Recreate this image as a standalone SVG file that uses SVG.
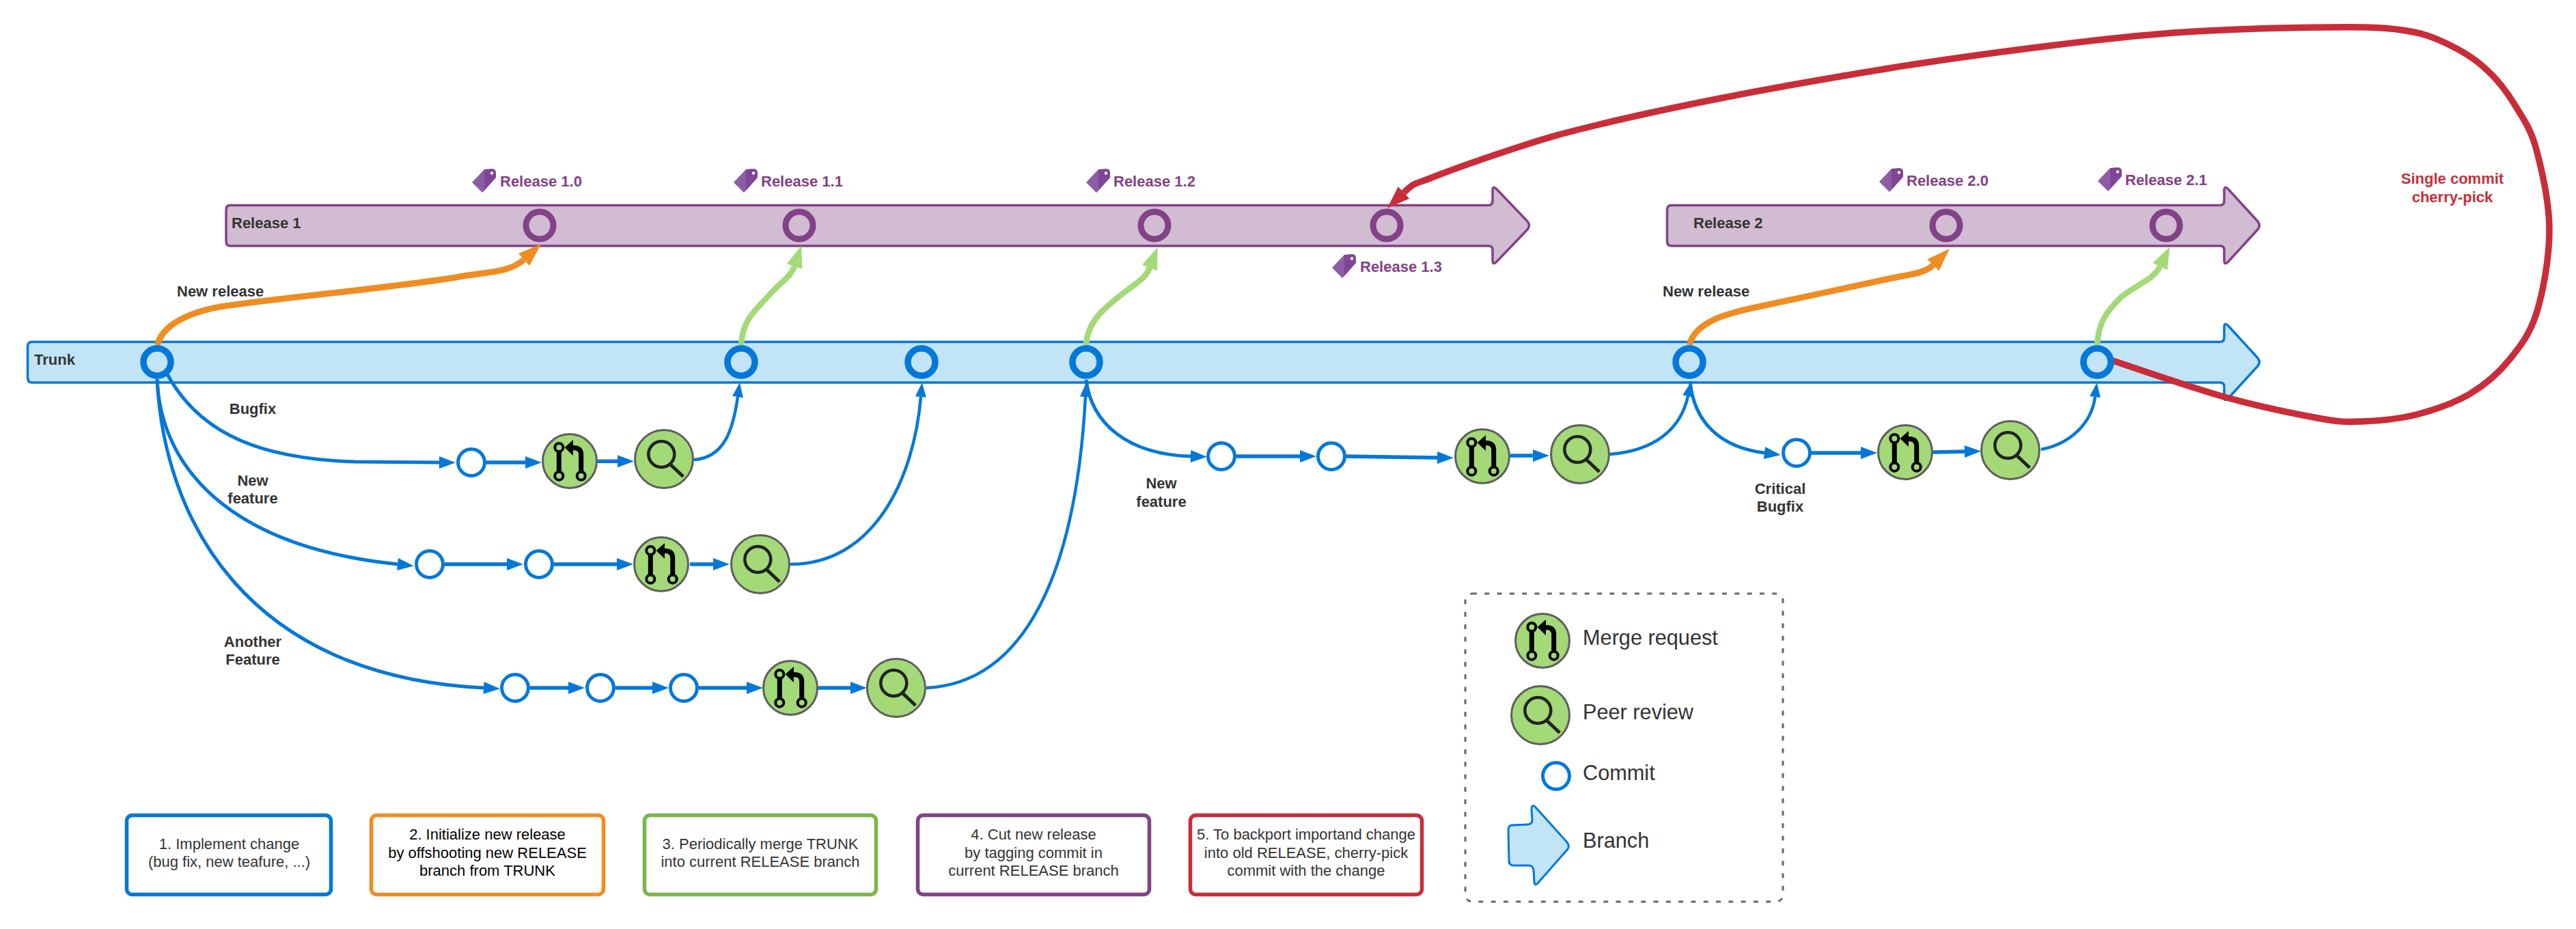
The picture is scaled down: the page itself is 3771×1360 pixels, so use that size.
<svg xmlns="http://www.w3.org/2000/svg" xmlns:xlink="http://www.w3.org/1999/xlink" width="3771" height="1360" viewBox="0 0 3771 1360">
<style>
text{font-family:"Liberation Sans",Arial,sans-serif;font-size:22px;fill:#333}
.b{font-weight:bold}
.tagt{font-weight:bold;fill:#834187}
.red{font-weight:bold;fill:#c92d39}
.m{text-anchor:middle}
.leg{font-size:30.7px}
.blue{fill:#c1e4f7;stroke:#0478d9;stroke-width:3.5}
.purple{fill:#d1bcd2;stroke:#834187;stroke-width:3.5}
.tc{fill:#c1e4f7;stroke:#0478d9;stroke-width:9.5}
.rc{fill:none;stroke:#834187;stroke-width:9}
.c{fill:#fff;stroke:#0478d9;stroke-width:5}
.g{fill:#a3d977;stroke:#5e5e5e;stroke-width:3}
.ln{fill:none;stroke:#0478d9;stroke-width:5;marker-end:url(#aB)}
.st{fill:none;stroke:#0478d9;stroke-width:5.5;marker-end:url(#aB)}
.rt{fill:none;stroke:#0478d9;stroke-width:4.5;marker-end:url(#aB2)}
.or{fill:none;stroke:#ef8d22;stroke-width:9;marker-end:url(#aO)}
.gr{fill:none;stroke:#a3d977;stroke-width:8.500;marker-end:url(#aG)}
.rd{fill:none;stroke:#c92d39;stroke-width:9.500;marker-end:url(#aR)}
.box{fill:#fff;stroke-width:5.5}
</style>
<defs>
<marker id="aB" markerUnits="userSpaceOnUse" markerWidth="24" markerHeight="18" refX="0" refY="9" orient="auto" overflow="visible"><path d="M0,0L24,9L0,18Z" fill="#0478d9"/></marker>
<marker id="aB2" markerUnits="userSpaceOnUse" markerWidth="21" markerHeight="16" refX="0" refY="8" orient="auto" overflow="visible"><path d="M0,0L21,8L0,16Z" fill="#0478d9"/></marker>
<marker id="aO" markerUnits="userSpaceOnUse" markerWidth="34" markerHeight="24" refX="0" refY="12" orient="auto" overflow="visible"><path d="M0,0L34,12L0,24Z" fill="#ef8d22"/></marker>
<marker id="aG" markerUnits="userSpaceOnUse" markerWidth="32" markerHeight="24" refX="0" refY="12" orient="auto" overflow="visible"><path d="M0,0L32,12L0,24Z" fill="#a3d977"/></marker>
<marker id="aR" markerUnits="userSpaceOnUse" markerWidth="33" markerHeight="24" refX="0" refY="12" orient="auto" overflow="visible"><path d="M0,0L33,12L0,24Z" fill="#c92d39"/></marker>
<g id="mrI">
<path d="M-15.7,-18V20M16.7,15V-9Q16.7,-19.5 6,-19.5H2" fill="none" stroke="#000" stroke-width="7"/>
<path d="M-7.5,-20L5,-31V-8Z" fill="#000"/>
<circle cx="-15.7" cy="-20" r="6" fill="#a3d977" stroke="#000" stroke-width="4"/>
<circle cx="-15.7" cy="21.7" r="6" fill="#a3d977" stroke="#000" stroke-width="4"/>
<circle cx="16.7" cy="21.7" r="6" fill="#a3d977" stroke="#000" stroke-width="4"/>
</g>
<g id="mr"><circle r="39.5" class="g"/><use href="#mrI"/></g>
<g id="pr"><circle r="42.5" class="g"/><circle cx="-3.7" cy="-7" r="19" fill="none" stroke="#222" stroke-width="4.5"/><path d="M10,8.5L28.3,25.7" fill="none" stroke="#222" stroke-width="5"/></g>
<g id="tag">
<path d="M18,1L0,20L15,35L18,32Z" fill="#8e5ba6"/>
<path d="M18,1L29,0Q35,0 35,6V13L18,32Z" fill="#7f4596"/>
<circle cx="29" cy="6.500" r="2.200" fill="#fff"/>
</g>
</defs>

<g id="release1-branch"><path class="purple" d="M337,300.5H2179Q2185,300.5 2185,294V279Q2185,271 2191,277L2236,324Q2241,330 2236,336L2191,383Q2185,389 2185,381V366Q2185,360 2179,360H337Q331,360 331,353V307Q331,300.5 337,300.5Z"/><text class="b" x="339" y="334">Release 1</text></g>
<g id="release2-branch"><path class="purple" d="M2447,300.5H3250Q3256,300.5 3256,294V279Q3256,271 3262,277L3305,324Q3310,330 3305,336L3262,383Q3256,389 3256,381V366Q3256,360 3250,360H2447Q2440.5,360 2440.5,353V307Q2440.5,300.5 2447,300.5Z"/><text class="b" x="2479" y="334">Release 2</text></g>
<g id="trunk-branch"><path class="blue" d="M47,500.5H3250Q3256,500.5 3256,494V479Q3256,471 3262,477L3305,524Q3310,530 3305,536L3262,583Q3256,589 3256,581V566Q3256,560 3250,560H47Q40.5,560 40.5,553V507Q40.5,500.5 47,500.5Z"/><text class="b" x="50" y="534">Trunk</text></g>

<g id="connectors">
<path class="ln" d="M245,548C295,640 390,672 520,676L643,677"/>
<path class="ln" d="M230,555C235,680 330,800 582,826"/>
<path class="ln" d="M230,555C240,760 360,990 708,1007"/>
<path class="ln" d="M1590,556C1598,620 1650,665 1743,668"/>
<path class="ln" d="M2474,558C2480,620 2520,655 2583,663"/>
<path class="rt" d="M1016,673C1060,670 1073,630 1080,581"/>
<path class="rt" d="M1157,826C1280,826 1338,700 1348,581"/>
<path class="rt" d="M1356,1007C1500,1000 1575,840 1589,581"/>
<path class="rt" d="M2357,665C2420,660 2460,630 2471,580"/>
<path class="rt" d="M2988,658C3030,650 3062,620 3067,581"/>
<path class="st" d="M711,677L769,677"/>
<path class="st" d="M875,675.300L904,675.300"/>
<path class="st" d="M651,826L742,826"/>
<path class="st" d="M811,826L903,826"/>
<path class="st" d="M1010,826L1044,826"/>
<path class="st" d="M776,1007L832,1007"/>
<path class="st" d="M901,1007L955,1007"/>
<path class="st" d="M1023,1007L1093,1007"/>
<path class="st" d="M1198,1007L1245,1007"/>
<path class="st" d="M1810,668L1903,668"/>
<path class="st" d="M1971,668L2104,670"/>
<path class="st" d="M2211,667L2244,667"/>
<path class="st" d="M2652,663L2724,663"/>
<path class="st" d="M2830,662L2876,661"/>
<path class="or" d="M230,505C240,470 290,452 344,446C450,432 600,418 673,405C710,398 745,400 767,380"/>
<path class="or" d="M2473,505C2482,470 2530,458 2579,448C2640,435 2720,418 2770,407C2795,402 2818,400 2830,388"/>
<path class="gr" d="M1085,505C1087,468 1105,455 1125,433C1145,411 1158,405 1163,390"/>
<path class="gr" d="M1590,505C1592,468 1620,448 1650,425C1670,410 1678,405 1683,392"/>
<path class="gr" d="M3070,505C3072,470 3085,455 3105,435C3130,415 3152,410 3162,390"/>
<path class="rd" d="M3093,528C3120,537 3206,567 3256,581C3306,595 3359.5,606 3393,612C3426.5,618 3432,618 3457,617C3482,616 3515,613 3541,606C3567,599 3593,590 3615,577C3637,564 3658,546 3674,526C3690,506 3703,490 3713,459C3723,427 3732,377 3732,337C3732,297 3721,249 3713,219C3705,189 3695,176 3683,156C3671,136 3656,116 3639,101C3622,85 3600.5,72.5 3580,63C3559.5,53.5 3545,48 3516,44C3487,40 3461,39.5 3408,40C3355,40.5 3265,42.5 3197,47C3129,51.5 3072,58 3000,67C2928,76 2844.5,87 2765,100C2685.5,113 2594,129 2523,143C2452,157 2387,171 2338,183C2289,195 2270,200 2230,213C2190,226 2125,248.5 2096,260C2067,271.5 2072,266 2055,282"/>
</g>

<g id="t1"><circle class="tc" cx="230" cy="530" r="20"/></g>
<g id="t2"><circle class="tc" cx="1085" cy="530" r="20"/></g>
<g id="t3"><circle class="tc" cx="1349" cy="530" r="20"/></g>
<g id="t4"><circle class="tc" cx="1590" cy="530" r="20"/></g>
<g id="t5"><circle class="tc" cx="2473" cy="530" r="20"/></g>
<g id="t6"><circle class="tc" cx="3070" cy="530" r="20"/></g>
<g id="r10"><circle class="rc" cx="790" cy="330" r="20"/></g>
<g id="r11"><circle class="rc" cx="1170" cy="330" r="20"/></g>
<g id="r12"><circle class="rc" cx="1690" cy="330" r="20"/></g>
<g id="r13"><circle class="rc" cx="2030" cy="330" r="20"/></g>
<g id="r20"><circle class="rc" cx="2849" cy="330" r="20"/></g>
<g id="r21"><circle class="rc" cx="3171" cy="330" r="20"/></g>

<g id="tag10"><use href="#tag" x="691" y="247"/><text class="tagt" x="732" y="273">Release 1.0</text></g>
<g id="tag11"><use href="#tag" x="1074" y="247"/><text class="tagt" x="1114" y="273">Release 1.1</text></g>
<g id="tag12"><use href="#tag" x="1590" y="247"/><text class="tagt" x="1630" y="273">Release 1.2</text></g>
<g id="tag13"><use href="#tag" x="1950" y="372"/><text class="tagt" x="1991" y="398">Release 1.3</text></g>
<g id="tag20"><use href="#tag" x="2751" y="246"/><text class="tagt" x="2791" y="272">Release 2.0</text></g>
<g id="tag21"><use href="#tag" x="3071" y="245"/><text class="tagt" x="3111" y="271">Release 2.1</text></g>

<g id="c11"><circle class="c" cx="690" cy="677" r="19.5"/></g>
<g id="mr1"><use href="#mr" x="834" y="675"/></g>
<g id="pr1"><use href="#pr" x="972" y="672"/></g>
<g id="c21"><circle class="c" cx="629" cy="826" r="19.5"/></g>
<g id="c22"><circle class="c" cx="789" cy="826" r="19.5"/></g>
<g id="mr2"><use href="#mr" x="968" y="826"/></g>
<g id="pr2"><use href="#pr" x="1113" y="826"/></g>
<g id="c31"><circle class="c" cx="754" cy="1007" r="19.5"/></g>
<g id="c32"><circle class="c" cx="879" cy="1007" r="19.5"/></g>
<g id="c33"><circle class="c" cx="1001" cy="1007" r="19.5"/></g>
<g id="mr3"><use href="#mr" x="1157" y="1007"/></g>
<g id="pr3"><use href="#pr" x="1312" y="1007"/></g>
<g id="c41"><circle class="c" cx="1788" cy="668" r="19.5"/></g>
<g id="c42"><circle class="c" cx="1949" cy="668" r="19.5"/></g>
<g id="mr4"><use href="#mr" x="2170" y="668"/></g>
<g id="pr4"><use href="#pr" x="2313" y="665"/></g>
<g id="c51"><circle class="c" cx="2630" cy="663" r="19.5"/></g>
<g id="mr5"><use href="#mr" x="2789" y="662"/></g>
<g id="pr5"><use href="#pr" x="2943" y="659"/></g>

<g id="labels">
<text class="b" x="259" y="434">New release</text>
<text class="b" x="2434" y="434">New release</text>
<text class="b m" x="370" y="606">Bugfix</text>
<text class="b m" x="370" y="711">New</text>
<text class="b m" x="370" y="737">feature</text>
<text class="b m" x="370" y="947">Another</text>
<text class="b m" x="370" y="973">Feature</text>
<text class="b m" x="1700" y="715">New</text>
<text class="b m" x="1700" y="742">feature</text>
<text class="b m" x="2606" y="723">Critical</text>
<text class="b m" x="2606" y="749">Bugfix</text>
<text class="red m" x="3590" y="269">Single commit</text>
<text class="red m" x="3590" y="296">cherry-pick</text>
</g>

<g id="step1"><rect class="box" stroke="#0478d9" x="185.500" y="1193.5" width="299" height="116" rx="8"/><text class="m" x="335.500" y="1243">1. Implement change</text><text class="m" x="335.500" y="1269">(bug fix, new teafure, ...)</text></g>
<g id="step2"><rect class="box" stroke="#ef8d22" x="543.500" y="1193.5" width="340" height="116" rx="8"/><text class="m" style="fill:#000" x="713.500" y="1229">2. Initialize new release</text><text class="m" style="fill:#000" x="713.500" y="1256">by offshooting new RELEASE</text><text class="m" style="fill:#000" x="713.500" y="1282">branch from TRUNK</text></g>
<g id="step3"><rect class="box" stroke="#7ab648" x="943.500" y="1193.5" width="339" height="116" rx="8"/><text class="m" x="1113" y="1243">3. Periodically merge TRUNK</text><text class="m" x="1113" y="1269">into current RELEASE branch</text></g>
<g id="step4"><rect class="box" stroke="#834187" x="1343.500" y="1193.5" width="339" height="116" rx="8"/><text class="m" x="1513" y="1229">4. Cut new release</text><text class="m" x="1513" y="1256">by tagging commit in</text><text class="m" x="1513" y="1282">current RELEASE branch</text></g>
<g id="step5"><rect class="box" stroke="#c92d39" x="1742.500" y="1193.5" width="339" height="116" rx="8"/><text class="m" x="1912" y="1229">5. To backport importand change</text><text class="m" x="1912" y="1256">into old RELEASE, cherry-pick</text><text class="m" x="1912" y="1282">commit with the change</text></g>

<g id="legend">
<rect x="2145" y="869" width="465" height="451" rx="10" fill="none" stroke="#666" stroke-width="3" stroke-dasharray="7 11.300"/>
<use href="#mr" x="2258" y="938"/>
<use href="#pr" x="2255" y="1047"/>
<circle class="c" cx="2278" cy="1136" r="19.5"/>
<path d="M2214,1208L2236,1207Q2243,1207 2243,1200L2242,1184Q2243,1176 2248,1182L2294,1233Q2298,1238 2295,1243L2251,1293Q2247,1298 2246,1291L2245,1274Q2244,1267 2238,1267L2216,1267Q2209,1267 2209,1260L2208,1215Q2208,1208 2214,1208Z" class="blue" style="stroke-width:3"/>
<text class="leg" x="2317" y="944">Merge request</text>
<text class="leg" x="2317" y="1053">Peer review</text>
<text class="leg" x="2317" y="1142">Commit</text>
<text class="leg" x="2317" y="1241">Branch</text>
</g>
</svg>
